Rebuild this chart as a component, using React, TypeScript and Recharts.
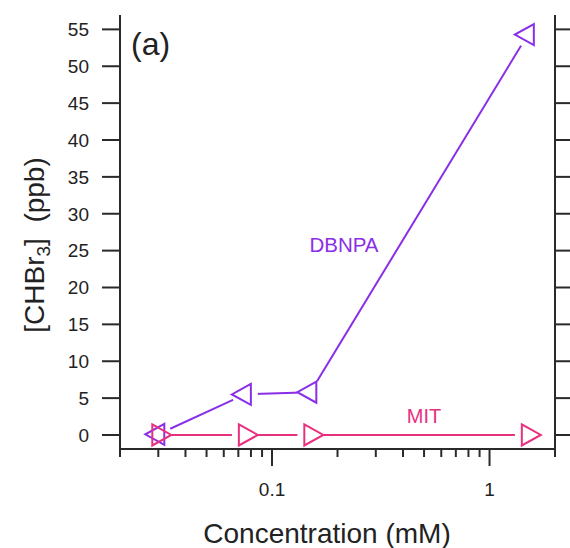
import React from 'react';
import { LineChart, Line, XAxis, YAxis } from 'recharts';

// ---- data ----
const concentrations = [0.03, 0.075, 0.15, 1.5];
const dbnpaValues = [0.1, 5.5, 5.8, 54.3];
const mitValues = [0, 0, 0, 0];
const yTicks = [0, 5, 10, 15, 20, 25, 30, 35, 40, 45, 50, 55];
const xTicks = [0.02, 0.03, 0.04, 0.05, 0.06, 0.07, 0.08, 0.09, 0.1, 0.2, 0.3, 0.4, 0.5, 0.6, 0.7, 0.8, 0.9, 1, 2];
const xMajorTicks = [0.1, 1];
const xMajorLabels = ['0.1', '1'];

const dbnpaData = concentrations.map((x, i) => ({ x, y: dbnpaValues[i] }));
const mitData = concentrations.map((x, i) => ({ x, y: mitValues[i] }));

const PURPLE = '#8a2ee8';
const PINK = '#e8307f';
const AXIS = '#2a2a2a';
const FONT = '"Liberation Sans", Arial, sans-serif';
const X_DOMAIN: [number, number] = [0.02, 2];
const Y_DOMAIN: [number, number] = [-1.9, 56.95];

const XTick = (props: any) => {
  const { x, y, payload } = props;
  const idx = xMajorTicks.indexOf(payload.value);
  const major = idx >= 0;
  return (
    <g>
      <line x1={x} x2={x} y1={y} y2={y + (major ? 17 : 8)} stroke={AXIS} strokeWidth={2} />
      {major && (
        <text x={x} y={y + 47} textAnchor="middle" fontSize={19} fill="#222" fontFamily={FONT}>
          {xMajorLabels[idx]}
        </text>
      )}
    </g>
  );
};

const YTickLeft = (props: any) => {
  const { x, y, payload } = props;
  return (
    <g>
      <line x1={x - 18} x2={x} y1={y} y2={y} stroke={AXIS} strokeWidth={2} />
      <text x={x - 31} y={y} dy="0.36em" textAnchor="end" fontSize={19} fill="#222" fontFamily={FONT}>
        {payload.value}
      </text>
    </g>
  );
};

const YTickRight = (props: any) => {
  const { x, y } = props;
  return <line x1={x} x2={x + 16} y1={y} y2={y} stroke={AXIS} strokeWidth={2} />;
};

const Halo = (props: any) => {
  const { cx, cy, index } = props;
  if (cx == null || cy == null) return <g key={`h-${index}`} />;
  return <circle key={`h-${index}`} cx={cx} cy={cy} r={13} fill="#fff" stroke="none" />;
};

const makeTriangle = (dir: 'left' | 'right', color: string, prefix: string) => (props: any) => {
  const { cx, cy, index } = props;
  if (cx == null || cy == null) return <g key={`${prefix}-${index}`} />;
  const s = dir === 'left' ? -1 : 1;
  const baseX = cx - s * 6;
  const tipX = cx + s * 13;
  const pts = `${baseX},${cy - 10.5} ${tipX},${cy} ${baseX},${cy + 10.5}`;
  return (
    <polygon
      key={`${prefix}-${index}`}
      points={pts}
      fill="none"
      stroke={color}
      strokeWidth={2}
      strokeLinejoin="miter"
    />
  );
};

const DbnpaMarker = makeTriangle('left', PURPLE, 'd');
const MitMarker = makeTriangle('right', PINK, 'm');

export default function App() {
  return (
    <div style={{ position: 'absolute', left: 0, top: 0, width: 570, height: 548, background: '#fff' }}>
      <LineChart
        width={570}
        height={548}
        margin={{ top: 15, right: 0, bottom: 0, left: 0 }}
        style={{ fontFamily: FONT }}
      >
        <XAxis
          dataKey="x"
          type="number"
          scale="log"
          domain={X_DOMAIN}
          allowDataOverflow
          ticks={xTicks}
          interval={0}
          height={99}
          tickSize={0}
          tickMargin={0}
          tickLine={false}
          tick={<XTick />}
          axisLine={{ stroke: AXIS, strokeWidth: 2 }}
        />
        <XAxis
          xAxisId="top"
          orientation="top"
          dataKey="x"
          type="number"
          scale="log"
          domain={X_DOMAIN}
          allowDataOverflow
          height={0}
          tick={false}
          tickLine={false}
          axisLine={{ stroke: AXIS, strokeWidth: 2 }}
        />
        <YAxis
          type="number"
          domain={Y_DOMAIN}
          allowDataOverflow
          ticks={yTicks}
          interval={0}
          width={120}
          tickSize={0}
          tickMargin={0}
          tickLine={false}
          tick={<YTickLeft />}
          axisLine={{ stroke: AXIS, strokeWidth: 2 }}
        />
        <YAxis
          yAxisId="r"
          orientation="right"
          type="number"
          domain={Y_DOMAIN}
          allowDataOverflow
          ticks={yTicks}
          interval={0}
          width={15}
          tickSize={0}
          tickMargin={0}
          tickLine={false}
          tick={<YTickRight />}
          axisLine={{ stroke: AXIS, strokeWidth: 2 }}
        />
        <Line data={dbnpaData} dataKey="y" stroke={PURPLE} strokeWidth={2} dot={false} activeDot={false} isAnimationActive={false} />
        <Line data={mitData} dataKey="y" stroke={PINK} strokeWidth={2} dot={false} activeDot={false} isAnimationActive={false} />
        <Line data={dbnpaData} dataKey="y" stroke="none" dot={Halo} activeDot={false} isAnimationActive={false} />
        <Line data={mitData} dataKey="y" stroke="none" dot={Halo} activeDot={false} isAnimationActive={false} />
        <Line data={dbnpaData} dataKey="y" stroke="none" dot={DbnpaMarker} activeDot={false} isAnimationActive={false} />
        <Line data={mitData} dataKey="y" stroke="none" dot={MitMarker} activeDot={false} isAnimationActive={false} />
      </LineChart>
      <svg
        width={570}
        height={548}
        style={{ position: 'absolute', left: 0, top: 0, pointerEvents: 'none' }}
        fontFamily={FONT}
      >
        <text x={131} y={55} fontSize={32} fill="#222">(a)</text>
        <text x={344} y={251.5} fontSize={20.5} fill={PURPLE} textAnchor="middle">DBNPA</text>
        <text x={424} y={423} fontSize={20} fill={PINK} textAnchor="middle">MIT</text>
        <text x={327} y={543} fontSize={28} fill="#222" textAnchor="middle">Concentration (mM)</text>
        <text
          x={34}
          y={245}
          fontSize={28}
          fill="#222"
          textAnchor="middle"
          dominantBaseline="central"
          transform="rotate(-90 34 245)"
          style={{ whiteSpace: 'pre' }}
        >
          <tspan>[CHBr</tspan>
          <tspan fontSize={19} dy={9}>3</tspan>
          <tspan dy={-9}>{']\u00a0\u00a0(ppb)'}</tspan>
        </text>
      </svg>
    </div>
  );
}
